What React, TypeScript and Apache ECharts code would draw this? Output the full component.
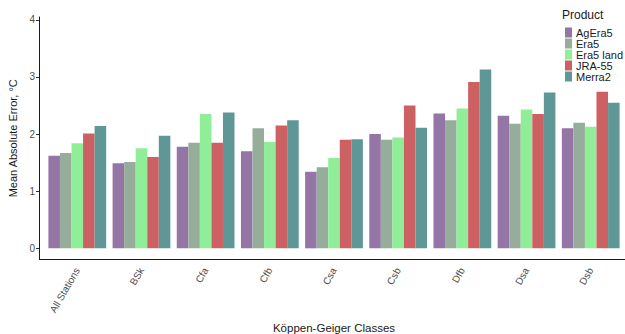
import React, { useEffect, useRef } from "react";
import * as echarts from "echarts";

const categories = ["All Stations", "BSk", "Cfa", "Cfb", "Csa", "Csb", "Dfb", "Dsa", "Dsb"];
const products = ["AgEra5", "Era5", "Era5 land", "JRA-55", "Merra2"];
const colors = ["#9575A6", "#96AD9C", "#90EE98", "#CD6063", "#5F9797"];

const agEra5 = [1.62, 1.49, 1.78, 1.7, 1.34, 2.0, 2.36, 2.32, 2.1];
const era5 = [1.67, 1.51, 1.85, 2.1, 1.42, 1.9, 2.24, 2.18, 2.2];
const era5Land = [1.84, 1.75, 2.35, 1.86, 1.58, 1.94, 2.45, 2.43, 2.13];
const jra55 = [2.01, 1.6, 1.85, 2.15, 1.9, 2.5, 2.91, 2.35, 2.74];
const merra2 = [2.14, 1.97, 2.38, 2.24, 1.91, 2.11, 3.13, 2.73, 2.55];

const yTicks = [0, 1, 2, 3, 4];

const FONT = "'Liberation Sans', Arial, Helvetica, sans-serif";

export default function App() {
  const ref = useRef<HTMLDivElement>(null);

  useEffect(() => {
    if (!ref.current) return;
    const chart = echarts.init(ref.current, undefined, { renderer: "svg" });
    const values = [agEra5, era5, era5Land, jra55, merra2];

    const axisBottom = 259.5;

    chart.setOption({
      animation: false,
      backgroundColor: "#ffffff",
      textStyle: { fontFamily: FONT },
      grid: {
        left: 45.2,
        right: 2.2,
        top: 17,
        bottom: 334 - axisBottom,
        outerBoundsMode: "none",
        containLabel: false,
      },
      legend: {
        orient: "vertical",
        left: 565,
        top: 27,
        padding: 0,
        itemGap: 0,
        itemWidth: 7,
        itemHeight: 10,
        icon: "rect",
        data: products,
        textStyle: {
          fontFamily: FONT,
          fontSize: 11,
          lineHeight: 10,
          color: "#1a1a1a",
          padding: [0, 0, 0, -1],
        },
      },
      graphic: [
        {
          type: "text",
          left: 562,
          top: 9,
          style: { text: "Product", fontFamily: FONT, fontSize: 12, fill: "#1a1a1a" },
        },
        {
          type: "line",
          shape: { x1: 39, y1: axisBottom, x2: 625, y2: axisBottom },
          style: { stroke: "#1a1a1a", lineWidth: 1 },
        },
      ],
      xAxis: {
        type: "category",
        data: categories,
        boundaryGap: true,
        axisLine: { show: false },
        axisTick: { show: false },
        axisLabel: {
          rotate: 60,
          margin: 9,
          fontFamily: FONT,
          fontSize: 10,
          color: "#4d4d4d",
        },
        name: "Köppen-Geiger Classes",
        nameLocation: "middle",
        nameGap: 61,
        nameTextStyle: { fontFamily: FONT, fontSize: 11.5, color: "#1a1a1a" },
      },
      yAxis: {
        type: "value",
        min: -0.196,
        max: 4.05,
        offset: 6.2,
        splitLine: { show: false },
        axisLine: { show: true, lineStyle: { color: "#1a1a1a", width: 1 } },
        axisTick: {
          show: true,
          length: 3,
          lineStyle: { color: "#333333" },
          customValues: yTicks,
        },
        axisLabel: {
          fontFamily: FONT,
          fontSize: 10,
          color: "#4d4d4d",
          margin: 4,
          customValues: yTicks,
        },
        name: "Mean Absolute Error, °C",
        nameLocation: "middle",
        nameGap: 21,
        nameRotate: 90,
        nameTextStyle: { fontFamily: FONT, fontSize: 11, color: "#1a1a1a" },
      },
      series: products.map((p, i) => ({
        name: p,
        type: "bar",
        data: values[i],
        barGap: "0%",
        barCategoryGap: "10%",
        itemStyle: { color: colors[i] },
      })),
    });

    return () => chart.dispose();
  }, []);

  return (
    <div
      ref={ref}
      style={{ position: "absolute", left: 0, top: 0, width: 625, height: 334 }}
    />
  );
}
